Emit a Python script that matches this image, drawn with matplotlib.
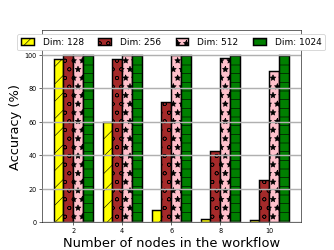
import matplotlib
matplotlib.use("Agg")
import matplotlib.pyplot as plt
import numpy as np

nodes = [2, 4, 6, 8, 10]
dim_labels = ["Dim: 128", "Dim: 256", "Dim: 512", "Dim: 1024"]
acc_128 = [97.5, 60, 7.5, 2.3, 1.3]
acc_256 = [100, 97.5, 72, 42.5, 25.5]
acc_512 = [100, 100, 100, 98, 90.5]
acc_1024 = [100, 100, 100, 100, 100]

series = [acc_128, acc_256, acc_512, acc_1024]
colors = ["yellow", "brown", "pink", "green"]
hatches = ["/", "o", "*", "-"]

plt.rcParams['hatch.linewidth'] = 0.8
DPI = 334 / 6.4
fig, ax = plt.subplots(figsize=(6.4, 4.8))

w = 0.4
x = np.array(nodes, dtype=float)
for i, (vals, c, h, lab) in enumerate(zip(series, colors, hatches, dim_labels)):
    ax.bar(x + (i - 1.5) * w, vals, width=w, color=c, edgecolor="black",
           hatch=h, linewidth=2, label=lab)

ax.set_ylim(0, 115)
ax.set_yticks([0, 20, 40, 60, 80, 100])
ax.set_xticks(nodes)
ax.tick_params(labelsize=9)
ax.yaxis.grid(True, color="#b0b0b0", linewidth=2)
ax.set_axisbelow(False)
ax.set_ylabel("Accuracy (%)", fontsize=18)
ax.set_xlabel("Number of nodes in the workflow", fontsize=18)

ax.legend(loc="upper center", ncol=4, fontsize=12.5, handlelength=1.4,
          columnspacing=1.6, handletextpad=1.0, framealpha=1)

fig.savefig("out.png", dpi=DPI)
